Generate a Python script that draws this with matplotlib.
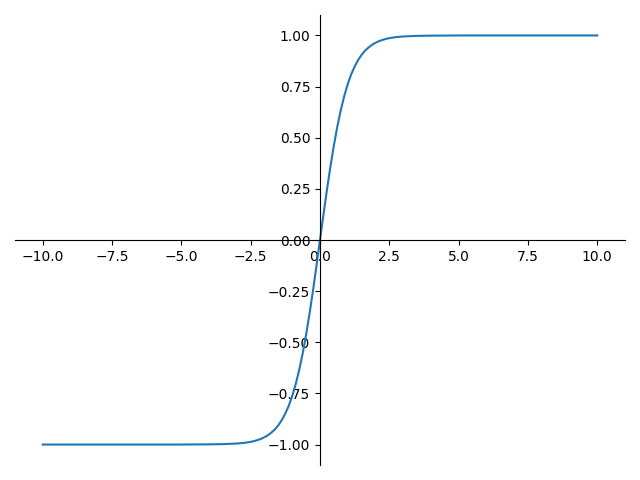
import matplotlib
matplotlib.use('Agg')
import matplotlib.pyplot as plt

# points (odd-symmetric S-shape), right half only
x_pos = [0.0, 0.125, 0.25, 0.375, 0.5, 0.625, 0.75, 0.875, 1.0, 1.125,
         1.25, 1.375, 1.5, 1.625, 1.75, 1.875, 2.0, 2.125, 2.25, 2.375,
         2.5, 2.75, 3.0, 3.5, 4.0, 5.0, 7.5, 10.0]
y_pos = [0.0, 0.124, 0.245, 0.358, 0.462, 0.555, 0.635, 0.704, 0.762,
         0.810, 0.848, 0.880, 0.905, 0.926, 0.941, 0.954, 0.964, 0.972,
         0.978, 0.983, 0.987, 0.992, 0.995, 0.998, 0.999, 1.0, 1.0, 1.0]

x_vals = [-v for v in x_pos[:0:-1]] + x_pos
y_vals = [-v for v in y_pos[:0:-1]] + y_pos

fig, ax = plt.subplots(figsize=(6.4, 4.8), dpi=100)
ax.plot(x_vals, y_vals)

ax.spines['left'].set_position('zero')
ax.spines['bottom'].set_position('zero')
ax.spines['right'].set_visible(False)
ax.spines['top'].set_visible(False)

plt.tight_layout()
plt.savefig('out.png')
